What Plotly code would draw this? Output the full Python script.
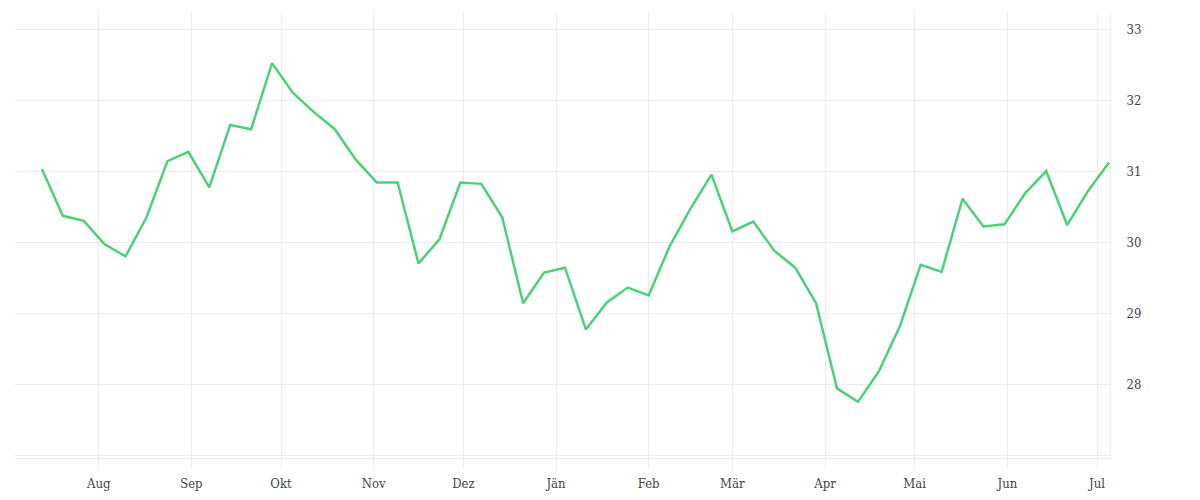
import pandas as pd
import plotly.graph_objects as go

# weekly values
values = [
    31.03, 30.37, 30.30, 29.97, 29.80, 30.35, 31.14, 31.27, 30.77, 31.65,
    31.59, 32.52, 32.10, 31.83, 31.59, 31.16, 30.84, 30.84, 29.70, 30.04,
    30.84, 30.82, 30.35, 29.14, 29.57, 29.64, 28.77, 29.15, 29.36, 29.25,
    29.94, 30.47, 30.95, 30.15, 30.29, 29.88, 29.64, 29.14, 27.94, 27.75,
    28.18, 28.81, 29.68, 29.58, 30.61, 30.22, 30.25, 30.69, 31.00, 30.24,
    30.72, 31.12,
]
dates = pd.date_range("2022-07-13", periods=len(values), freq="7D")

month_ticks = pd.date_range("2022-08-01", "2023-07-01", freq="MS")
month_labels = ["Aug", "Sep", "Okt", "Nov", "Dez", "Jän", "Feb", "Mär",
                "Apr", "Mai", "Jun", "Jul"]

y_ticks = [27, 28, 29, 30, 31, 32, 33]
y_labels = ["", "28", "29", "30", "31", "32", "33"]

GRID = "#ececec"
FONT = "DejaVu Serif Condensed, DejaVu Serif, serif"

fig = go.Figure(go.Scatter(
    x=dates, y=values, mode="lines",
    line=dict(color="#4cd17b", width=2.5),
    hovertemplate="%{x|%d.%m.%Y}<br>%{y:.2f}<extra></extra>",
))

fig.update_layout(
    width=1200, height=500,
    paper_bgcolor="white", plot_bgcolor="white",
    margin=dict(l=7, r=98, t=4, b=50),
    showlegend=False,
    font=dict(family=FONT, size=13, color="#444"),
    xaxis=dict(
        range=["2022-07-04 00:00", "2023-07-05 08:00"],
        tickvals=month_ticks, ticktext=month_labels,
        showgrid=True, gridcolor=GRID, gridwidth=1,
        ticks="outside", ticklen=10, tickcolor=GRID, tickwidth=1,
        showline=True, linecolor=GRID, linewidth=1,
        ticklabelstandoff=3,
        zeroline=False,
    ),
    yaxis=dict(
        side="right", range=[26.96, 33.24],
        tickvals=y_ticks, ticktext=y_labels,
        showgrid=True, gridcolor=GRID, gridwidth=1,
        showline=True, linecolor=GRID, linewidth=1,
        ticks="", ticklabelstandoff=13,
        zeroline=False,
    ),
)

fig.write_html("out.html")
